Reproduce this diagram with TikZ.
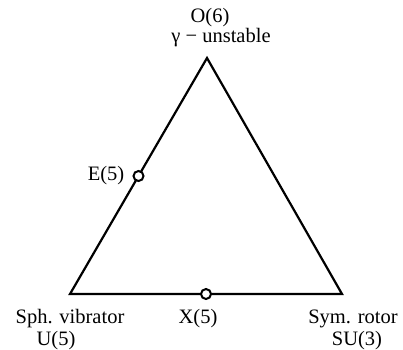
\documentclass[tikz,border=0pt]{standalone}
\usepackage{fontspec}
\setmainfont{Liberation Serif}
\usetikzlibrary{calc}
\begin{document}
\begin{tikzpicture}[x=1pt,y=-1pt,
  lbl/.style={font=\fontsize{20.5}{22}\selectfont, inner sep=0pt, anchor=base},
  ring/.style={circle, draw, line width=2pt, minimum size=10pt, inner sep=0pt, fill=white}]
\useasboundingbox (0,0) rectangle (403,349);
\coordinate (T) at (207,58);
\coordinate (L) at (70,294);
\coordinate (R) at (342,294);
\draw[line width=2.2pt, line join=miter] (T) -- (L) -- (R) -- cycle;
\node[ring] (E) at ($(T)!0.5!(L)$) {};
\node[ring] (X) at ($(L)!0.5!(R)$) {};
\node[lbl] (o6) at (210,22) {O(6)};
\node[lbl] (gu) at (221,42) {γ − unstable};
\node[lbl] (e5) at (106,180) {E(5)};
\node[lbl] (sv) at (70,323) {Sph. vibrator};
\node[lbl] (u5) at (56,345) {U(5)};
\node[lbl] (x5) at (198,323) {X(5)};
\node[lbl] (sr) at (353,323) {Sym. rotor};
\node[lbl] (su) at (357,345) {SU(3)};
\end{tikzpicture}
\end{document}
